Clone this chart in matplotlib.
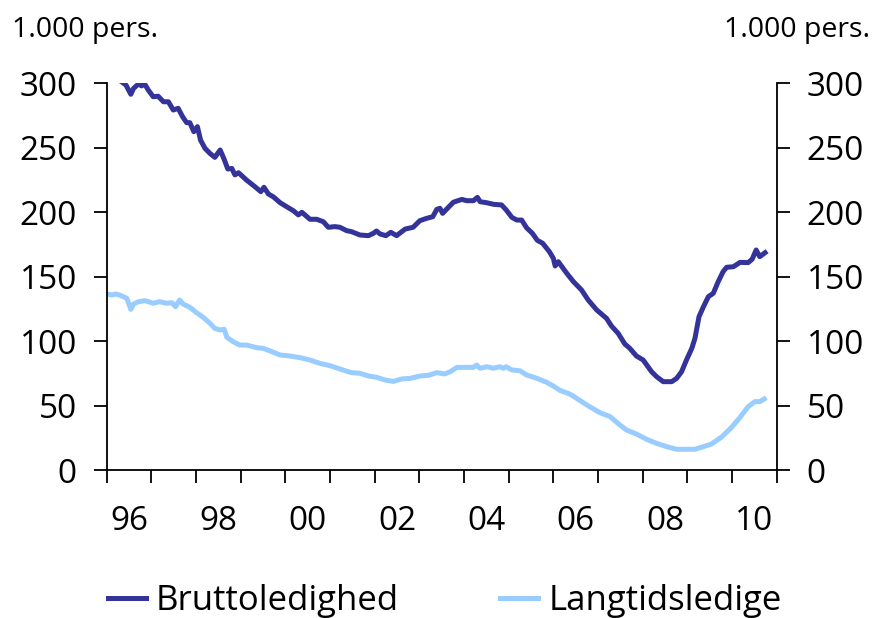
import matplotlib
matplotlib.use('Agg')
import matplotlib.pyplot as plt
import numpy as np

plt.rcParams['font.family'] = ['Open Sans', 'DejaVu Sans']

# --- Data (1.000 persons) ---
brutto_year = [1996.00, 1996.17, 1996.34, 1996.43, 1996.54, 1996.60, 1996.71, 1996.78, 1996.84, 1996.93,
               1997.04, 1997.15, 1997.27, 1997.38, 1997.49, 1997.60, 1997.70, 1997.79, 1997.86, 1997.95,
               1998.03, 1998.10, 1998.20, 1998.31, 1998.42, 1998.54, 1998.63, 1998.71, 1998.80, 1998.87,
               1998.95, 1999.13, 1999.32, 1999.45, 1999.52, 1999.62, 1999.73, 1999.88, 2000.03, 2000.18,
               2000.29, 2000.37, 2000.55, 2000.70, 2000.85, 2000.96, 2001.11, 2001.22, 2001.37, 2001.48,
               2001.67, 2001.86, 2001.97, 2002.04, 2002.12, 2002.25, 2002.36, 2002.49, 2002.68, 2002.86,
               2003.01, 2003.16, 2003.30, 2003.39, 2003.46, 2003.52, 2003.76, 2003.95, 2004.06, 2004.21,
               2004.30, 2004.36, 2004.51, 2004.66, 2004.84, 2004.94, 2005.07, 2005.18, 2005.29, 2005.40,
               2005.53, 2005.64, 2005.76, 2005.91, 2006.00, 2006.04, 2006.11, 2006.30, 2006.45, 2006.63,
               2006.78, 2006.97, 2007.19, 2007.30, 2007.45, 2007.60, 2007.71, 2007.86, 2008.01, 2008.20,
               2008.31, 2008.46, 2008.65, 2008.76, 2008.87, 2008.98, 2009.10, 2009.17, 2009.26, 2009.36,
               2009.47, 2009.58, 2009.69, 2009.80, 2009.88, 2010.03, 2010.18, 2010.36, 2010.45, 2010.54,
               2010.62, 2010.74]
brutto_val = [312, 305, 301, 298.7, 291.5, 296, 299.5, 298, 300, 294.8,
              289.6, 290, 285.7, 285.7, 279.3, 280.6, 274, 269.5, 269.5, 262.5,
              266.4, 256, 249.6, 245.7, 242.6, 248.3, 241, 233.6, 234, 229,
              230.7, 225, 219.8, 216, 219.4, 214.2, 212, 207.5, 204.3, 201.2,
              198, 200, 194.6, 194.6, 192.7, 188.4, 188.9, 188.4, 185.8, 185,
              182.4, 181.9, 183.7, 185.5, 183.2, 181.9, 184.5, 181.9, 187, 188.4,
              193.5, 195.3, 196.6, 202.3, 203.1, 199.2, 207.8, 210, 209, 209,
              211.6, 208.2, 207.4, 206.2, 205.7, 202, 196.1, 194, 194, 188,
              183.7, 178.3, 176, 169.5, 164.3, 158.4, 161.7, 152.7, 146.2, 139.8,
              132, 124.3, 117.8, 111.9, 106.2, 97.9, 94.6, 88.6, 85.5, 76.4,
              72.6, 68.7, 68.7, 71.3, 76.4, 85.5, 94.6, 102.3, 119, 126.8,
              134.6, 137.2, 146.2, 154, 157.4, 157.8, 161.2, 161, 163.6, 170.8,
              165.6, 168.7]

langtid_year = [1996.00, 1996.11, 1996.21, 1996.34, 1996.45, 1996.54, 1996.60, 1996.71, 1996.86, 1997.04,
                1997.18, 1997.34, 1997.46, 1997.54, 1997.63, 1997.71, 1997.86, 1998.01, 1998.16, 1998.31,
                1998.42, 1998.54, 1998.63, 1998.69, 1998.83, 1998.98, 1999.13, 1999.36, 1999.50, 1999.66,
                1999.88, 2000.10, 2000.33, 2000.55, 2000.77, 2001.00, 2001.22, 2001.48, 2001.67, 2001.86,
                2002.04, 2002.23, 2002.42, 2002.60, 2002.80, 2003.01, 2003.20, 2003.39, 2003.57, 2003.69,
                2003.84, 2004.06, 2004.21, 2004.28, 2004.36, 2004.51, 2004.66, 2004.80, 2004.88, 2004.94,
                2005.07, 2005.25, 2005.40, 2005.63, 2005.85, 2006.00, 2006.15, 2006.37, 2006.58, 2006.75,
                2007.04, 2007.27, 2007.49, 2007.64, 2007.86, 2008.09, 2008.31, 2008.54, 2008.76, 2008.98,
                2009.17, 2009.36, 2009.54, 2009.77, 2009.99, 2010.18, 2010.36, 2010.51, 2010.62, 2010.72]
langtid_val = [136.7, 135.9, 136.7, 135.1, 133.3, 124.8, 128.9, 130.7, 131.5, 129.5,
               130.7, 129.5, 129.9, 126.8, 132, 128.9, 126.4, 122.2, 118.6, 114,
               110, 108.8, 109.3, 103.1, 99.7, 97.1, 97.1, 95, 94.6, 92.5,
               89.4, 88.6, 87.3, 85.5, 82.9, 81.1, 78.5, 75.7, 75.2, 73.1,
               72.1, 70, 68.9, 70.8, 71.3, 73.1, 73.6, 75.7, 74.7, 76.4,
               79.8, 79.8, 79.8, 81.6, 79.1, 80.3, 79.1, 80.3, 79.1, 80.3,
               77.8, 77.2, 73.9, 71.3, 68.2, 65.3, 61.9, 59.1, 54.5, 50.6,
               44.7, 41.6, 35.1, 31.2, 28.1, 24, 20.9, 18.3, 16.3, 16.3,
               16.3, 18.3, 20.4, 25.9, 33.3, 41.1, 49.3, 53.2, 53.2, 55.3]

year_ticks = list(range(1996, 2012))
year_labels = ['96', '98', '00', '02', '04', '06', '08', '10']
y_ticks = [0, 50, 100, 150, 200, 250, 300]

dark = '#333399'
light = '#99CCFF'

fig = plt.figure(figsize=(8.72, 6.18), dpi=100)
ax = fig.add_axes([0.1224, 0.239, 0.7683, 0.6262])

ax.plot(brutto_year, brutto_val, color=dark, lw=3.6, label='Bruttoledighed', solid_joinstyle='round')
ax.plot(langtid_year, langtid_val, color=light, lw=3.6, label='Langtidsledige', solid_joinstyle='round')

ax.set_xlim(1996, 2011)
ax.set_ylim(0, 300)

ax.spines['top'].set_visible(False)
for s in ['left', 'right', 'bottom']:
    ax.spines[s].set_linewidth(1.3)

# x: tick marks at year boundaries, labels at mid-year every second year
ax.set_xticks(year_ticks)
ax.set_xticklabels([])
ax.set_xticks([y + 0.5 for y in range(1996, 2011, 2)], minor=True)
ax.set_xticklabels(year_labels, minor=True)
ax.tick_params(axis='x', which='major', direction='out', length=9.5, width=1.3)
ax.tick_params(axis='x', which='minor', length=0, pad=25, labelsize=24)

ax.set_yticks(y_ticks)
ax.tick_params(axis='y', which='major', direction='out', length=9.5, width=1.3,
               labelsize=24, pad=12, left=True, right=True, labelleft=True, labelright=True)

fig.text(0.014, 0.952, '1.000 pers.', fontsize=20.5, ha='left', va='center')
fig.text(0.998, 0.952, '1.000 pers.', fontsize=20.5, ha='right', va='center')

fig.legend(loc='center', bbox_to_anchor=(0.51, 0.027), ncol=2, frameon=False,
           fontsize=25, handlelength=1.1, handletextpad=0.3, columnspacing=2.9)

fig.savefig('out.png', dpi=100, facecolor='white')
